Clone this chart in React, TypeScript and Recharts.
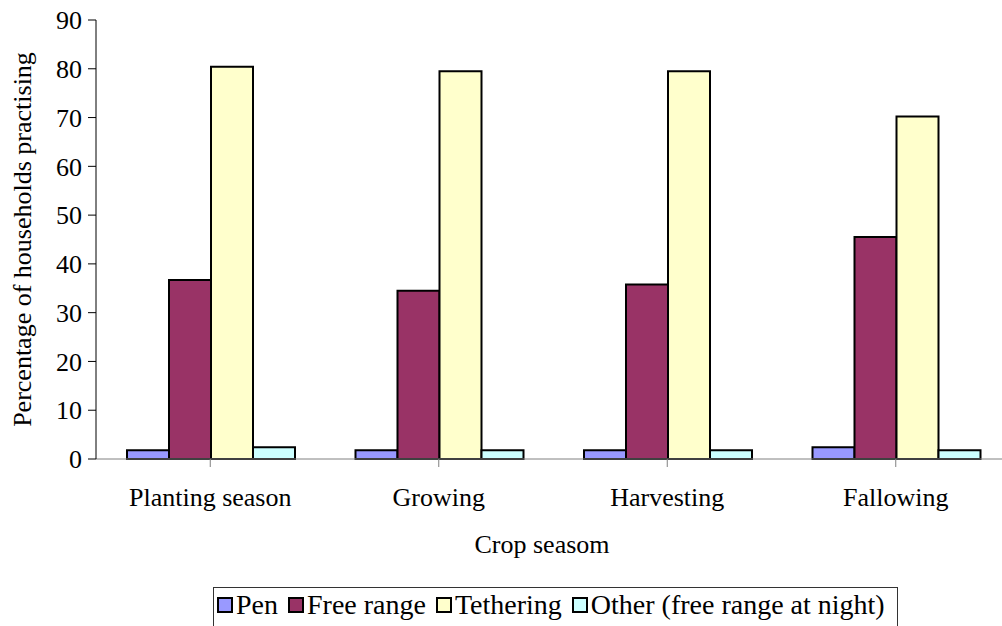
import React from 'react'
import { BarChart, Bar, XAxis, YAxis, Label } from 'recharts'

const seasons = ['Planting season', 'Growing', 'Harvesting', 'Fallowing']
const pen = [1.8, 1.8, 1.8, 2.4]
const freeRange = [36.7, 34.5, 35.8, 45.5]
const tethering = [80.4, 79.5, 79.5, 70.2]
const other = [2.4, 1.8, 1.8, 1.8]
const yTicks = [0, 10, 20, 30, 40, 50, 60, 70, 80, 90]

const series = [
  { key: 'pen', name: 'Pen', color: '#9999ff' },
  { key: 'freeRange', name: 'Free range', color: '#993366' },
  { key: 'tethering', name: 'Tethering', color: '#ffffcc' },
  { key: 'other', name: 'Other (free range at night)', color: '#ccffff' },
]

const data = seasons.map((season, i) => ({
  season,
  pen: pen[i],
  freeRange: freeRange[i],
  tethering: tethering[i],
  other: other[i],
}))

const font = '"Liberation Serif", "Times New Roman", serif'
const tickStyle = { fontFamily: font, fontSize: 26, fill: '#000' }

function SeasonLegend() {
  return (
    <div
      style={{
        position: 'absolute',
        left: 213,
        top: 587,
        width: 685,
        height: 50,
        border: '1px solid #333',
        boxSizing: 'border-box',
        fontFamily: font,
        fontSize: 28,
        lineHeight: '32px',
        display: 'flex',
        alignItems: 'flex-start',
        paddingTop: 1,
        paddingLeft: 3,
        whiteSpace: 'nowrap',
      }}
    >
      {series.map((s) => (
        <span key={s.key} style={{ display: 'inline-flex', alignItems: 'center', marginRight: 10 }}>
          <span
            style={{
              display: 'inline-block',
              width: 12,
              height: 12,
              background: s.color,
              border: '2px solid #000',
              marginRight: 3,
            }}
          />
          {s.name}
        </span>
      ))}
    </div>
  )
}

export default function App() {
  return (
    <div style={{ position: 'absolute', left: 0, top: 0, width: 1002, height: 626, overflow: 'hidden', background: '#fff' }}>
      <BarChart
        width={1020}
        height={626}
        data={data}
        margin={{ top: 20, right: 10, left: 0, bottom: 77 }}
        barCategoryGap={31}
        barGap={0}
      >
        <XAxis
          dataKey="season"
          height={90}
          stroke="#808080"
          tickSize={8}
          tickMargin={21}
          tick={tickStyle}
          interval={0}
          tickLine={{ stroke: '#808080' }}
        >
          <Label
            value="Crop seasom"
            position="insideBottom"
            offset={-4}
            dx={-11}
            style={{ fontFamily: font, fontSize: 26, fill: '#000' }}
          />
        </XAxis>
        <YAxis
          width={96}
          domain={[0, 90]}
          ticks={yTicks}
          interval={0}
          stroke="#000"
          tickSize={8}
          tickMargin={6}
          tick={tickStyle}
        >
          <Label
            value="Percentage of households practising"
            angle={-90}
            position="center"
            dx={-26}
            style={{ fontFamily: font, fontSize: 26, fill: '#000', textAnchor: 'middle' }}
          />
        </YAxis>
        {series.map((s) => (
          <Bar
            key={s.key}
            dataKey={s.key}
            name={s.name}
            fill={s.color}
            stroke="#000"
            strokeWidth={2}
            isAnimationActive={false}
          />
        ))}
      </BarChart>
      <SeasonLegend />
    </div>
  )
}
